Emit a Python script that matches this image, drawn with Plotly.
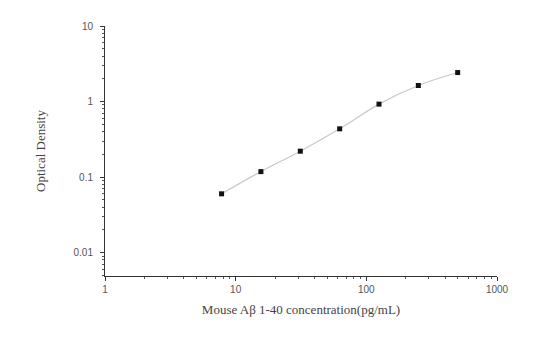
import plotly.graph_objects as go

concentration = [7.8, 15.6, 31.25, 62.5, 125, 250, 500]
optical_density = [0.060, 0.118, 0.220, 0.435, 0.924, 1.63, 2.42]

x_ticks = [1, 10, 100, 1000]
x_ticktext = ["1", "10", "100", "1000"]
y_ticks = [0.01, 0.1, 1, 10]
y_ticktext = ["0.01", "0.1", "1", "10"]

x_minor = [m * 10 ** d for d in range(0, 3) for m in range(2, 10)]
y_minor = [m * 10 ** d for d in range(-3, 1) for m in range(2, 10)]

fig = go.Figure()
fig.add_trace(go.Scatter(
    x=concentration, y=optical_density, mode="lines",
    line=dict(color="#c8c8c8", width=1.2, shape="spline", smoothing=1.0),
    hoverinfo="skip", showlegend=False))
fig.add_trace(go.Scatter(
    x=concentration, y=optical_density, mode="markers",
    marker=dict(symbol="square", size=5, color="#111111"),
    showlegend=False))

axis_font = dict(family="Liberation Sans, Arial, sans-serif", size=10, color="#555555")
title_font = dict(family="Liberation Serif, Times New Roman, serif", size=13, color="#444444")
fig.update_layout(
    width=534, height=338,
    margin=dict(l=105, r=37, t=26, b=62),
    paper_bgcolor="white", plot_bgcolor="white",
    xaxis=dict(
        type="log", range=[0, 3], showgrid=False, zeroline=False,
        showline=True, linecolor="#333333", linewidth=1,
        tickvals=x_ticks, ticktext=x_ticktext, ticks="outside", ticklen=4,
        tickcolor="#333333", tickfont=axis_font,
        minor=dict(tickvals=x_minor, ticks="outside", ticklen=2, tickcolor="#555555", showgrid=False),
        title=dict(text="Mouse Aβ 1-40 concentration(pg/mL)", font=title_font, standoff=10),
    ),
    yaxis=dict(
        type="log", range=[-2.31, 1], showgrid=False, zeroline=False,
        showline=True, linecolor="#333333", linewidth=1,
        tickvals=y_ticks, ticktext=y_ticktext, ticks="outside", ticklen=4,
        tickcolor="#333333", tickfont=axis_font, ticklabelstandoff=5,
        minor=dict(tickvals=y_minor, ticks="outside", ticklen=2, tickcolor="#555555", showgrid=False),
        title=dict(text="Optical Density", font=title_font, standoff=24),
    ),
)

fig.write_html("out.html")
